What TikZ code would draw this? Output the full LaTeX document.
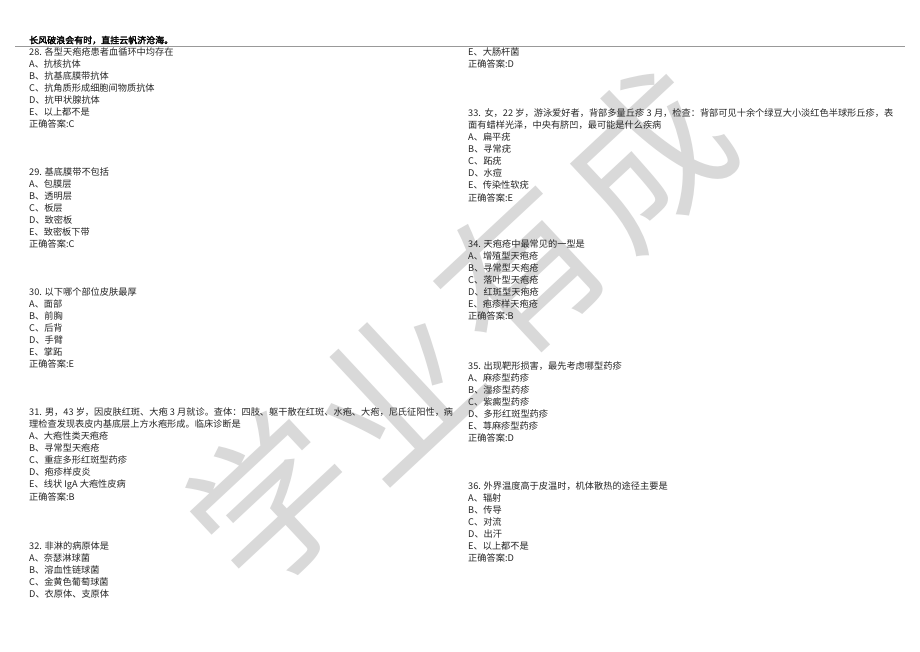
\documentclass[tikz,border=0pt]{standalone}
\usepackage{fontspec}
\setmainfont{Noto Sans CJK SC}[AutoFakeBold=2.5]
\XeTeXlinebreaklocale "zh"
\XeTeXlinebreakskip=0pt plus 1pt
\tikzset{
  ln/.style={anchor=base west, inner sep=0pt, text=black!85, font=\fontsize{9.2}{10}\selectfont},
  hdr/.style={anchor=base west, inner sep=0pt, font=\fontsize{9}{10}\selectfont\bfseries},
  wm/.style={text=black!15, inner sep=0pt, rotate=43, font=\fontsize{160}{160}\selectfont},
}
\newcommand\qblock[4]{\foreach \t [count=\i from 0] in {#4} {\node[ln] (#1-\i) at (#2,{#3+12.1*\i+3.3}) {\t};}}
\begin{document}
\begin{tikzpicture}[x=1pt,y=-1pt]
\path[use as bounding box, fill=white] (0,0) rectangle (920,651);
% watermark
\node[wm] (wm1) at (271,500) {学};
\node[wm] (wm2) at (395,390) {业};
\node[wm] (wm3) at (520,272) {有};
\node[wm] (wm4) at (646,158) {成};
% header
\node[hdr] (head) at (29,43.5) {长风破浪会有时，直挂云帆济沧海。};
\coordinate (hl) at (15,46.5);
\coordinate (hr) at (905,46.5);
\draw[black!40, line width=1.3pt] (hl) -- (hr);
% left column
\qblock{q28}{29}{52}{{28. 各型天疱疮患者血循环中均存在},{A、抗核抗体},{B、抗基底膜带抗体},{C、抗角质形成细胞间物质抗体},{D、抗甲状腺抗体},{E、以上都不是},{正确答案:C}}
\qblock{q29}{29}{172}{{29. 基底膜带不包括},{A、包膜层},{B、透明层},{C、板层},{D、致密板},{E、致密板下带},{正确答案:C}}
\qblock{q30}{29}{292}{{30. 以下哪个部位皮肤最厚},{A、面部},{B、前胸},{C、后背},{D、手臂},{E、掌跖},{正确答案:E}}
\node[ln] (q31-0) at (29,{412+3.3}) {\makebox[424pt][s]{31. 男，43 岁，因皮肤红斑、大疱 3 月就诊。查体：四肢、躯干散在红斑、水疱、大疱，尼氏征阳性，病}};
\qblock{q31}{29}{424.1}{{理检查发现表皮内基底层上方水疱形成。临床诊断是},{A、大疱性类天疱疮},{B、寻常型天疱疮},{C、重症多形红斑型药疹},{D、疱疹样皮炎},{E、线状 IgA 大疱性皮病},{正确答案:B}}
\qblock{q32}{29}{546}{{32. 非淋的病原体是},{A、奈瑟淋球菌},{B、溶血性链球菌},{C、金黄色葡萄球菌},{D、衣原体、支原体}}
% right column
\qblock{q32r}{468}{52}{{E、大肠杆菌},{正确答案:D}}
\node[ln] (q33-0) at (468,{113+3.3}) {\makebox[425pt][s]{33. 女，22 岁，游泳爱好者，背部多量丘疹 3 月，检查：背部可见十余个绿豆大小淡红色半球形丘疹，表}};
\qblock{q33}{468}{125.1}{{面有蜡样光泽，中央有脐凹，最可能是什么疾病},{A、扁平疣},{B、寻常疣},{C、跖疣},{D、水痘},{E、传染性软疣},{正确答案:E}}
\qblock{q34}{468}{244}{{34. 天疱疮中最常见的一型是},{A、增殖型天疱疮},{B、寻常型天疱疮},{C、落叶型天疱疮},{D、红斑型天疱疮},{E、疱疹样天疱疮},{正确答案:B}}
\qblock{q35}{468}{366}{{35. 出现靶形损害，最先考虑哪型药疹},{A、麻疹型药疹},{B、湿疹型药疹},{C、紫癜型药疹},{D、多形红斑型药疹},{E、荨麻疹型药疹},{正确答案:D}}
\qblock{q36}{468}{486}{{36. 外界温度高于皮温时，机体散热的途径主要是},{A、辐射},{B、传导},{C、对流},{D、出汗},{E、以上都不是},{正确答案:D}}
\end{tikzpicture}
\end{document}
